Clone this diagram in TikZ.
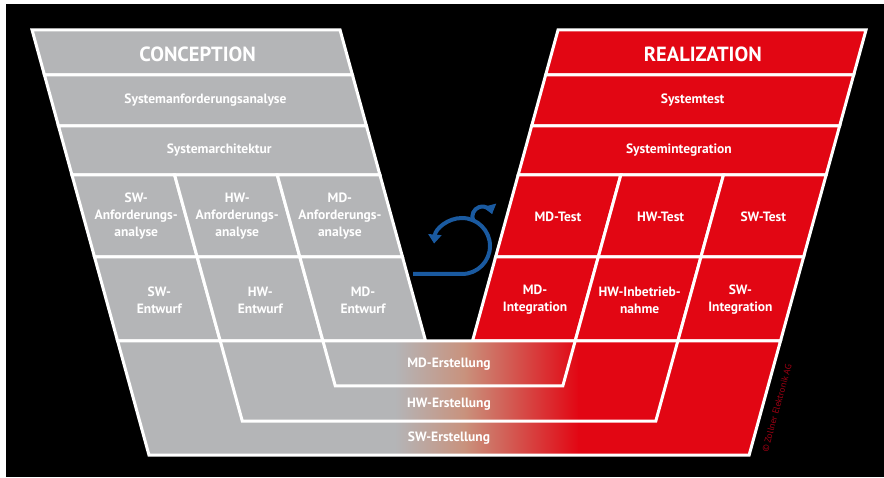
\documentclass[tikz,border=0pt]{standalone}
\usepackage{fontspec}
\setmainfont{PT Sans}
\usetikzlibrary{arrows.meta}
\definecolor{vgray}{RGB}{180,181,183}
\definecolor{vred}{RGB}{226,6,19}
\definecolor{vtan}{RGB}{201,145,124}
\definecolor{vblue}{RGB}{26,90,160}
\definecolor{vcopy}{RGB}{160,0,20}
\tikzset{
  gcell/.style={fill=vgray, draw=white, line width=3pt},
  rcell/.style={fill=vred, draw=white, line width=3pt},
  wline/.style={draw=white, line width=3pt},
  title/.style={text=white, font=\fontsize{20.5}{22}\selectfont\bfseries},
  lbl/.style={text=white, font=\fontsize{13.5}{17}\selectfont\bfseries, align=center},
  iter/.style={draw=vblue, line width=4pt, -{Triangle[width=13pt,length=9pt]}},
}
\begin{document}
\begin{tikzpicture}[x=1pt,y=1pt]
  \useasboundingbox (0,0) rectangle (884,477);
  \fill[white] (0,0) rectangle (884,477);
  \fill[black] (6,0) rectangle (884,473);

  % conception side
  \begin{scope}[xslant=-0.275]
    \draw[gcell] (155,402) rectangle (463,447);
    \draw[gcell] (155,351) rectangle (463,402);
    \draw[gcell] (155,302) rectangle (463,351);
    \draw[gcell] (155,220) rectangle (257.67,302);
    \draw[gcell] (257.67,220) rectangle (360.33,302);
    \draw[gcell] (360.33,220) rectangle (463,302);
    \draw[gcell] (155,136) rectangle (257.67,220);
    \draw[gcell] (257.67,136) rectangle (360.33,220);
    \draw[gcell] (360.33,136) rectangle (463,220);
    \coordinate (gL-top) at (155,136);
    \coordinate (gL-bot) at (155,22);
    \coordinate (g1-top) at (257.67,136);
    \coordinate (g1-56) at (257.67,56);
    \coordinate (g2-top) at (360.33,136);
    \coordinate (g2-91) at (360.33,91);
    \node[title, xshift=5pt] (conc) at (309,423) {CONCEPTION};
    \node[lbl] (sysanf) at (309,376.5) {Systemanforderungsanalyse};
    \node[lbl] (sysarch) at (309,326.5) {Systemarchitektur};
    \node[lbl] (swanf) at (208,261) {SW-\\Anforderungs-\\analyse};
    \node[lbl] (hwanf) at (309,261) {HW-\\Anforderungs-\\analyse};
    \node[lbl] (mdanf) at (411.67,261) {MD-\\Anforderungs-\\analyse};
    \node[lbl] (swent) at (208,177) {SW-\\Entwurf};
    \node[lbl] (hwent) at (309,177) {HW-\\Entwurf};
    \node[lbl] (mdent) at (411.67,177) {MD-\\Entwurf};
  \end{scope}

  % realization side
  \begin{scope}[xslant=0.275]
    \draw[rcell] (435.1,402) rectangle (743.1,447);
    \draw[rcell] (435.1,351) rectangle (743.1,402);
    \draw[rcell] (435.1,302) rectangle (743.1,351);
    \draw[rcell] (435.1,220) rectangle (537.77,302);
    \draw[rcell] (537.77,220) rectangle (640.43,302);
    \draw[rcell] (640.43,220) rectangle (743.1,302);
    \draw[rcell] (435.1,136) rectangle (537.77,220);
    \draw[rcell] (537.77,136) rectangle (640.43,220);
    \draw[rcell] (640.43,136) rectangle (743.1,220);
    \coordinate (r1-top) at (537.77,136);
    \coordinate (r1-91) at (537.77,91);
    \coordinate (r2-top) at (640.43,136);
    \coordinate (r2-56) at (640.43,56);
    \coordinate (rR-top) at (743.1,136);
    \coordinate (rR-bot) at (743.1,22);
    \node[title] (real) at (586.5,423) {REALIZATION};
    \node[lbl] (systest) at (589.1,376.5) {Systemtest};
    \node[lbl] (sysint) at (589.1,326.5) {Systemintegration};
    \node[lbl] (mdtest) at (486.43,260) {MD-Test};
    \node[lbl] (hwtest) at (589.1,260) {HW-Test};
    \node[lbl] (swtest) at (691.77,260) {SW-Test};
    \node[lbl] (mdint) at (486.43,177) {MD-\\Integration};
    \node[lbl] (hwinb) at (591,177) {HW-Inbetrieb-\\nahme};
    \node[lbl] (swint) at (691.77,177) {SW-\\Integration};
  \end{scope}

  % erstellung rows
  \begin{scope}
    \clip (gL-top) -- (gL-bot) -- (rR-bot) -- (rR-top) -- cycle;
    \fill[vgray] (100,0) rectangle (396,140);
    \shade[left color=vgray, right color=vtan] (395,0) rectangle (466,140);
    \shade[left color=vtan, right color=vred] (465,0) rectangle (579,140);
    \fill[vred] (578,0) rectangle (800,140);
  \end{scope}
  \draw[wline] (gL-top) -- (gL-bot) -- (rR-bot) -- (rR-top) -- cycle;
  \draw[wline] (g1-top) -- (g1-56) -- (r2-56) -- (r2-top);
  \draw[wline] (g2-top) -- (g2-91) -- (r1-91) -- (r1-top);
  \node[lbl] (mderst) at (449,113) {MD-Erstellung};
  \node[lbl] (hwerst) at (449,73) {HW-Erstellung};
  \node[lbl] (swerst) at (449,38.5) {SW-Erstellung};

  % iteration symbol
  \coordinate (loop-in) at (413,203);
  \coordinate (loop-bot) at (462,203);
  \coordinate (loop-top) at (473,257);
  \draw[iter] (loop-in) -- (loop-bot) arc[start angle=-90, end angle=175, radius=28];
  \draw[iter] (loop-top) arc[start angle=200, end angle=15, radius=10];

  \node[text=vcopy, font=\fontsize{9}{10}\selectfont, rotate=74.6] (copy) at (777,69) {© Zollner Elektronik AG};
\end{tikzpicture}
\end{document}
